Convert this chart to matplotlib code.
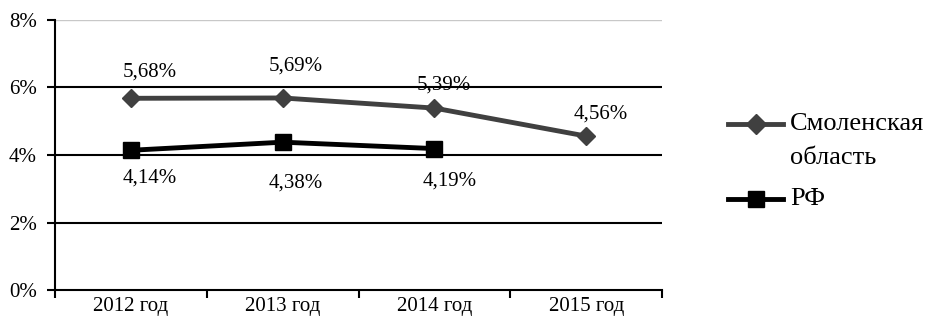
import numpy as np
import matplotlib.pyplot as plt
from matplotlib.lines import Line2D

plt.rcParams['font.family'] = ['Liberation Serif', 'DejaVu Serif']

years = ['2012 год', '2013 год', '2014 год', '2015 год']
smolensk = [5.68, 5.69, 5.39, 4.56]
rf = [4.14, 4.38, 4.19]

# label offsets from their markers, in pixels
smo_off = [(19, 26), (13, 32), (9, 23), (15, 22)]
rf_off = [(19, -28), (13, -41), (15, -32)]

SMO_COLOR = '#404040'

fig = plt.figure(figsize=(9.25, 3.3), dpi=100)
ax = fig.add_axes([0.0595, 0.1212, 0.6562, 0.8182])

x = np.arange(len(years))
ax.plot(x, smolensk, color=SMO_COLOR, lw=3.5, marker='D', ms=9, zorder=3)
ax.plot(x[:len(rf)], rf, color='black', lw=3.5, marker='s', ms=11, zorder=3)

for xi, v, off in zip(x, smolensk, smo_off):
    ax.annotate(f'{v:.2f}%'.replace('.', ','), (xi, v), xytext=off,
                textcoords='offset pixels', ha='center', va='center', fontsize=15)
for xi, v, off in zip(x, rf, rf_off):
    ax.annotate(f'{v:.2f}%'.replace('.', ','), (xi, v), xytext=off,
                textcoords='offset pixels', ha='center', va='center', fontsize=15)

ax.set_xlim(-0.5, len(years) - 0.5)
ax.set_ylim(0, 8)
ax.set_yticks([0, 2, 4, 6, 8])
ax.set_yticklabels([f'{t}%' for t in [0, 2, 4, 6, 8]], fontsize=15)
for t in [2, 4, 6]:
    ax.axhline(t, color='black', lw=1.5, zorder=1)
ax.axhline(8, color='#c8c8c8', lw=1, zorder=1)

ax.set_xticks(np.arange(-0.5, len(years)), minor=False)
ax.set_xticklabels([])
ax.set_xticks(x, minor=True)
ax.set_xticklabels(years, minor=True, fontsize=15)
ax.tick_params(axis='x', which='major', length=6, width=1.5, direction='out')
ax.tick_params(axis='x', which='minor', length=0, pad=5)
ax.tick_params(axis='y', length=6, width=1.5, direction='out', pad=7)

for s in ['top', 'right']:
    ax.spines[s].set_visible(False)
for s in ['left', 'bottom']:
    ax.spines[s].set_linewidth(1.5)

# legend drawn by hand so the handle sits on the first text line
W, H = 925.0, 330.0
def legend_entry(y, color, marker, ms, lines):
    fig.add_artist(Line2D([728 / W, 783 / W], [1 - y / H, 1 - y / H],
                          transform=fig.transFigure, color=color, lw=3.5))
    fig.add_artist(Line2D([755.5 / W], [1 - y / H], transform=fig.transFigure,
                          color=color, marker=marker, ms=ms, lw=0))
    for i, t in enumerate(lines):
        fig.text(790 / W, 1 - (y + 34 * i) / H, t, fontsize=19,
                 ha='left', va='center')

legend_entry(124, SMO_COLOR, 'D', 10, ['Смоленская', 'область'])
legend_entry(199, 'black', 's', 11, ['РФ'])

fig.savefig('out.png', dpi=100)
